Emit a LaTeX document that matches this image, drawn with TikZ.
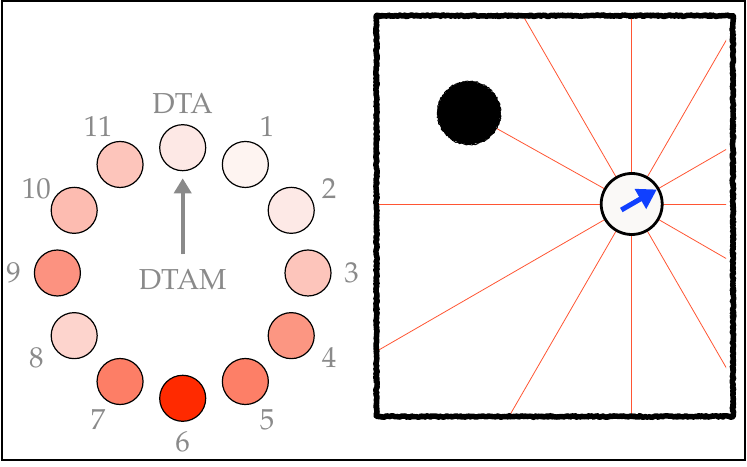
\documentclass[tikz,border=0pt]{standalone}
\usepackage[T1]{fontenc}
\usepackage{mathpazo}
\usetikzlibrary{arrows.meta, decorations.pathmorphing}

\definecolor{labelgray}{HTML}{8A8A8A}
\definecolor{raycol}{HTML}{FF5533}
\definecolor{puckfill}{HTML}{FAF9F7}
\definecolor{pointerblue}{HTML}{1040FF}
\definecolor{dial0}{HTML}{FDE8E5}
\definecolor{dial1}{HTML}{FEF4F1}
\definecolor{dial2}{HTML}{FDE9E6}
\definecolor{dial3}{HTML}{FDC5BB}
\definecolor{dial4}{HTML}{FC9682}
\definecolor{dial5}{HTML}{FD7F67}
\definecolor{dial6}{HTML}{FF2A00}
\definecolor{dial7}{HTML}{FD7E66}
\definecolor{dial8}{HTML}{FDD4CD}
\definecolor{dial9}{HTML}{FC9280}
\definecolor{dial10}{HTML}{FDBCB1}
\definecolor{dial11}{HTML}{FDC5BB}

\begin{document}
\begin{tikzpicture}[
    x = 1bp, y = 1bp,
    every node/.style = {font = \fontsize{29}{32}\selectfont, text = labelgray},
    dot/.style = {circle, draw = black, line width = 1.2bp, minimum size = 46bp, inner sep = 0pt},
    ray/.style = {draw = raycol, line width = 0.8bp},
    rough/.style = {decorate, line join = round, line cap = round,
                    decoration = {random steps, segment length = 1.2bp, amplitude = 0.8bp}}]

\useasboundingbox (0,0) rectangle (747,467);
\draw[line width = 1.3bp] (2,7) rectangle (745,466);

% clock of twelve positions
\coordinate (clock) at (182.7,194);
\foreach \k in {0,...,11}
    \node[dot, fill = dial\k] (c\k) at ([shift = {(90-30*\k:125.3)}] clock) {};
\foreach \k/\t in {0/DTA,1/1,2/2,3/3,4/4,5/5,6/6,7/7,8/8,9/9,10/10,11/11}
    \node (l\k) at ([shift = {(90-30*\k:169)}] clock) {\t};
\node (dtam) at (182.7,187) {DTAM};
\draw[-{Triangle[length = 15bp, width = 17bp]}, draw = labelgray, fill = labelgray,
      line width = 4bp, shorten < = 12bp, shorten > = 7bp] (dtam) -- (c0);

% arena
\coordinate (hub) at (631.7,263);
\node[circle, minimum size = 63bp, inner sep = 0pt] (disc) at (469,354) {};
\begin{scope}
    \clip (377,51) rectangle (726,449);
    \foreach \a in {0,30,60,90,120,180,210,240,270,300,330} {
        \path (hub) ++(\a:600) coordinate (end\a);
        \draw[ray] (hub) -- (end\a);
    }
\end{scope}
\draw[ray] (hub) -- (disc);
\fill[rough] (disc.center) circle (31.5bp);
\draw[rough, line width = 1bp] (disc.center) circle (31.5bp);

\node[circle, draw = black, line width = 2.8bp, fill = puckfill, minimum size = 61bp,
      inner sep = 0pt] (puck) at (hub) {};
\coordinate (tail) at ([shift = {(210:12)}] hub);
\coordinate (head) at ([shift = {(30:29)}] hub);
\draw[-{Triangle[length = 19bp, width = 22bp]}, draw = pointerblue, fill = pointerblue,
      line width = 5bp] (tail) -- (head);

\draw[rough, line width = 5.5bp] (376.5,50.5) rectangle (733,451.3);
\draw[rough, line width = 1.5bp, decoration = {amplitude = 1.6bp}] (376.5,50.5) rectangle (733,451.3);
\end{tikzpicture}
\end{document}
